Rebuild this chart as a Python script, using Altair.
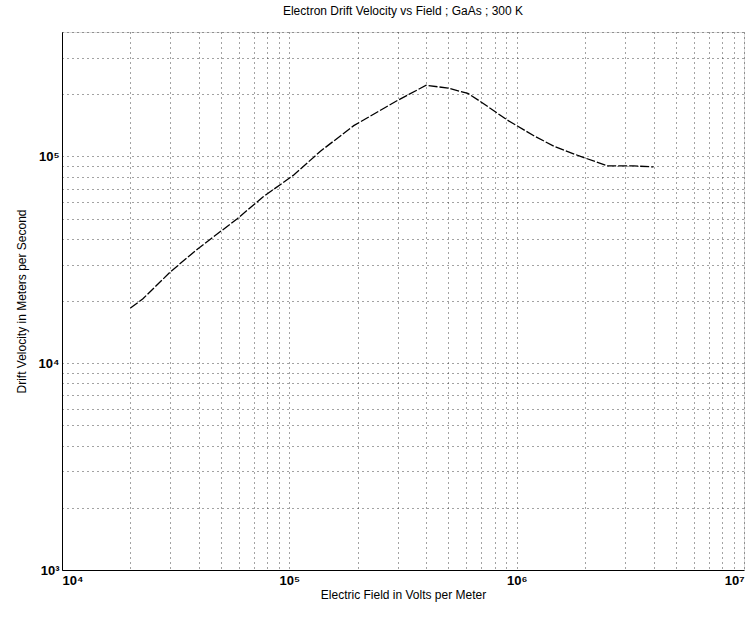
import altair as alt
import pandas as pd

# Electric field (V/m) and drift velocity (m/s)
field = [2.0e4, 2.27e4, 3.0e4, 3.95e4, 5.9e4, 7.7e4, 1.04e5, 1.37e5, 1.92e5,
         3.0e5, 4.0e5, 5.0e5, 6.1e5, 6.9e5, 9.1e5, 1.19e6, 1.46e6, 1.91e6,
         2.52e6, 3.27e6, 4.0e6]
velocity = [1.85e4, 2.05e4, 2.77e4, 3.57e4, 5.0e4, 6.4e4, 8.1e4, 1.06e5, 1.41e5,
            1.87e5, 2.21e5, 2.14e5, 2.02e5, 1.85e5, 1.50e5, 1.26e5, 1.12e5, 1.0e5,
            9.0e4, 9.0e4, 8.9e4]

x_ticks = [k * 10 ** e for e in (4, 5, 6) for k in range(1, 10)] + [1e7]
y_ticks = [k * 10 ** e for e in (3, 4) for k in range(1, 10)] + [1e5, 2e5, 3e5, 4e5]

df = pd.DataFrame({"field": field, "velocity": velocity})

FONT = "Liberation Sans"
label_expr = (
    "abs(log(datum.value)/LN10 - round(log(datum.value)/LN10)) < 1e-6 ? "
    "'10' + ['\u2070','\u00b9','\u00b2','\u00b3','\u2074','\u2075','\u2076','\u2077']"
    "[round(log(datum.value)/LN10)] : ''"
)

common_axis = dict(
    grid=True,
    gridColor="#333333",
    gridDash=[1, 4],
    gridWidth=1,
    gridOpacity=0.9,
    ticks=False,
    domain=True,
    domainColor="black",
    labelExpr=label_expr,
    labelFont=FONT,
    labelFontSize=13,
    labelFontWeight="bold",
    labelColor="black",
    titleFont=FONT,
    titleFontSize=12,
    titleFontWeight="normal",
    titleColor="black",
    labelOverlap=False,
)

chart = alt.Chart(df).mark_line(
    color="black", strokeWidth=1.3, strokeDash=[9, 2]
).encode(
    x=alt.X(
        "field:Q",
        scale=alt.Scale(type="log", domain=[1e4, 1e7], nice=False),
        axis=alt.Axis(values=x_ticks, title="Electric Field in Volts per Meter",
                      labelPadding=4, titlePadding=2, **common_axis),
    ),
    y=alt.Y(
        "velocity:Q",
        scale=alt.Scale(type="log", domain=[1e3, 4e5], nice=False),
        axis=alt.Axis(values=y_ticks, title="Drift Velocity in Meters per Second",
                      labelPadding=3, titlePadding=10, **common_axis),
    ),
).properties(
    width=682,
    height=538,
    title=alt.TitleParams(
        "Electron Drift Velocity vs Field ;  GaAs ; 300 K",
        font=FONT, fontSize=12, fontWeight="normal", color="black",
        anchor="middle", offset=8,
    ),
    autosize=alt.AutoSizeParams(type="none"),
    padding={"left": 62, "top": 32, "right": 10, "bottom": 48},
).configure_view(
    stroke="black", strokeWidth=1
).configure(background="white")

chart.save("out.html", embed_options={"renderer": "svg", "actions": False})
